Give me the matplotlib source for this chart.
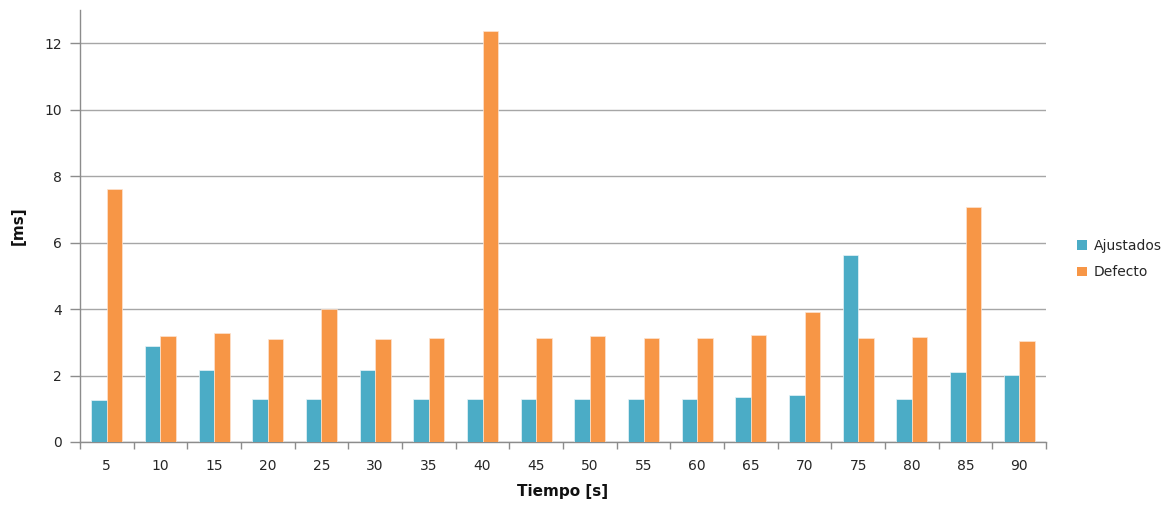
import matplotlib
matplotlib.use("Agg")
import matplotlib.pyplot as plt
import numpy as np
from matplotlib.patches import Patch

# Sampling times [s]
tiempos = [5, 10, 15, 20, 25, 30, 35, 40, 45, 50, 55, 60, 65, 70, 75, 80, 85, 90]
# Response time [ms] with tuned parameters
ajustados = [1.27, 2.90, 2.18, 1.30, 1.30, 2.18, 1.30, 1.30, 1.30, 1.30,
             1.30, 1.30, 1.34, 1.41, 5.62, 1.30, 2.12, 2.02]
# Response time [ms] with default parameters
defecto = [7.62, 3.18, 3.28, 3.09, 4.01, 3.09, 3.12, 12.38, 3.12, 3.19,
           3.12, 3.12, 3.22, 3.90, 3.12, 3.15, 7.08, 3.03]

color_aj = "#4BACC6"
color_def = "#F79646"
grid_col = "#A6A6A6"
text_col = "#262626"

fig = plt.figure(figsize=(11.76, 5.08), dpi=100)
ax = fig.add_axes([0.068, 0.130, 0.8215, 0.850])

x = np.arange(len(tiempos))
w = 0.29
ax.bar(x - w / 2, ajustados, width=w, color=color_aj, edgecolor="#E8F4F8",
       linewidth=0.5, zorder=3, label="Ajustados")
ax.bar(x + w / 2, defecto, width=w, color=color_def, edgecolor="#FDE3D0",
       linewidth=0.5, zorder=3, label="Defecto")

ax.set_xlim(-0.5, len(tiempos) - 0.5)
ax.set_ylim(0, 13.0)
ax.set_yticks([0, 2, 4, 6, 8, 10, 12])
ax.yaxis.grid(True, color=grid_col, linewidth=1.0, zorder=0)
ax.set_axisbelow(True)

# category labels centred, tick marks on category boundaries
ax.set_xticks(x)
ax.set_xticklabels([str(t) for t in tiempos])
ax.set_xticks(np.arange(len(tiempos) + 1) - 0.5, minor=True)
ax.tick_params(axis="x", which="major", length=0, pad=12, labelsize=10,
               labelcolor=text_col)
ax.tick_params(axis="x", which="minor", length=5, color="#8C8C8C", width=1)
ax.tick_params(axis="y", length=7, color="#8C8C8C", width=1, pad=6,
               labelsize=10, labelcolor=text_col)

for s in ("top", "right"):
    ax.spines[s].set_visible(False)
for s in ("left", "bottom"):
    ax.spines[s].set_color("#8C8C8C")
    ax.spines[s].set_linewidth(1.0)

ax.set_xlabel("Tiempo [s]", fontsize=11, fontweight="bold", color="#111111",
              labelpad=8)
ax.set_ylabel("[ms]", fontsize=11, fontweight="bold", color="#111111",
              labelpad=13)

handles = [Patch(facecolor=color_aj, label="Ajustados"),
           Patch(facecolor=color_def, label="Defecto")]
fig.legend(handles=handles, loc="center left", bbox_to_anchor=(0.905, 0.49),
           frameon=False, fontsize=10, handlelength=0.7, handleheight=0.7,
           handletextpad=0.5, labelspacing=0.9, labelcolor=text_col)

fig.savefig("out.png", dpi=100, facecolor="white")
